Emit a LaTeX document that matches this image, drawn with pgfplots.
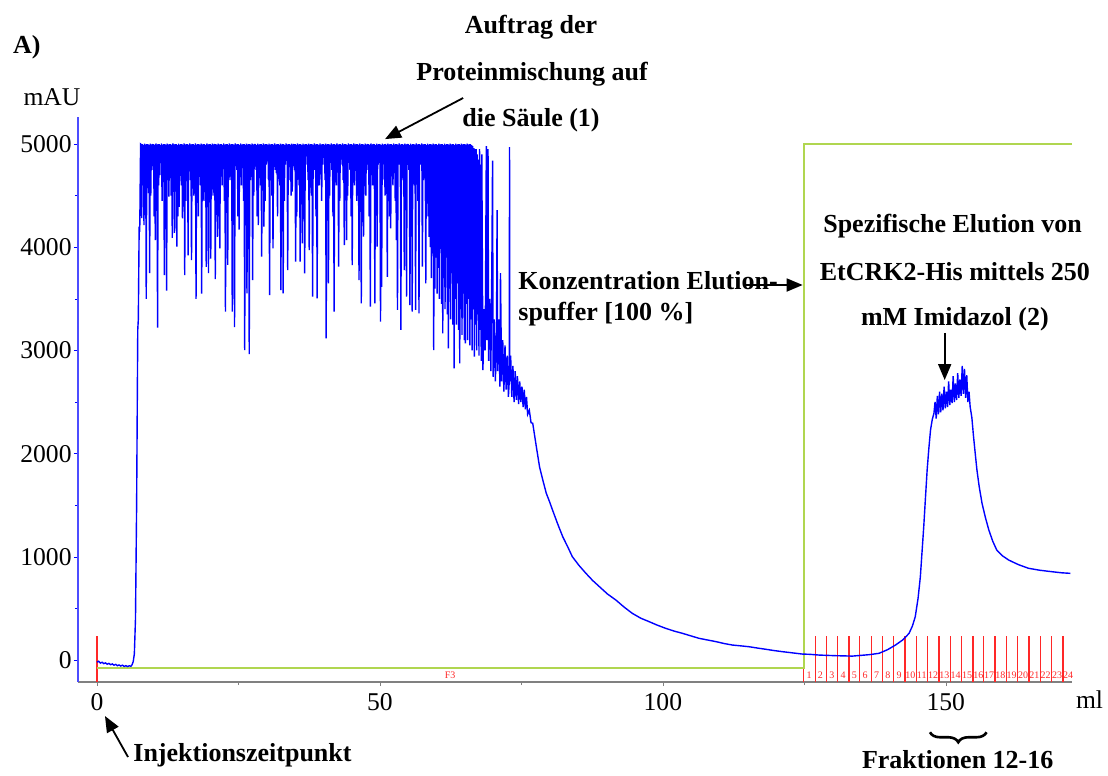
\documentclass[border=0pt]{standalone}
\usepackage{fontspec}
\setmainfont{Liberation Serif}
\usepackage{pgfplots}
\pgfplotsset{compat=1.18}
\usetikzlibrary{arrows.meta,decorations.pathreplacing}

\definecolor{uvblue}{RGB}{0,0,255}
\definecolor{bufgreen}{RGB}{176,214,80}
\definecolor{fracred}{RGB}{255,40,40}

\begin{document}
\begin{tikzpicture}[
  note/.style={font=\fontsize{13}{15}\selectfont\bfseries, inner sep=1pt},
  arr/.style={-{Triangle[length=8pt,width=6.5pt]}, line width=0.9pt},
  frac/.style={text=fracred, font=\fontsize{5}{6}\selectfont, inner sep=0pt}]
\begin{axis}[
  scale only axis, width=497pt, height=282.5pt,
  xmin=-3.36, xmax=172.3, ymin=-213, ymax=5262,
  axis x line*=bottom, axis y line*=left,
  x axis line style={-, draw=gray, line width=0.6pt},
  y axis line style={-, draw=uvblue!70, line width=0.7pt},
  xtick={0,50,100,150}, minor xtick={25,75,125},
  ytick={0,1000,2000,3000,4000,5000}, minor ytick={500,1500,2500,3500,4500},
  tick align=outside, major tick length=2pt, minor tick length=1.5pt,
  x tick style={gray}, y tick style={uvblue},
  tick label style={font=\fontsize{12.8}{14}\selectfont},
  yticklabel style={inner xsep=1pt},
  /pgf/number format/1000 sep={},
  /pgf/number format/assume math mode=true,
  clip=false,
  unbounded coords=jump,
]
% fraction marks
\addplot[fracred, line width=0.6pt] coordinates {
(0,-213)(0,232)(0,nan)
(124.9,-213)(124.9,232)(124.9,nan)(126.9,-213)(126.9,232)(126.9,nan)
(128.9,-213)(128.9,232)(128.9,nan)(130.9,-213)(130.9,232)(130.9,nan)
(132.9,-213)(132.9,232)(132.9,nan)(134.8,-213)(134.8,232)(134.8,nan)
(136.8,-213)(136.8,232)(136.8,nan)(138.8,-213)(138.8,232)(138.8,nan)
(140.8,-213)(140.8,232)(140.8,nan)(142.8,-213)(142.8,232)(142.8,nan)
(144.8,-213)(144.8,232)(144.8,nan)(146.8,-213)(146.8,232)(146.8,nan)
(148.8,-213)(148.8,232)(148.8,nan)(150.8,-213)(150.8,232)(150.8,nan)
(152.8,-213)(152.8,232)(152.8,nan)(154.8,-213)(154.8,232)(154.8,nan)
(156.7,-213)(156.7,232)(156.7,nan)(158.7,-213)(158.7,232)(158.7,nan)
(160.7,-213)(160.7,232)(160.7,nan)(162.7,-213)(162.7,232)(162.7,nan)
(164.7,-213)(164.7,232)(164.7,nan)(166.7,-213)(166.7,232)(166.7,nan)
(168.7,-213)(168.7,232)(168.7,nan)(170.7,-213)(170.7,232)
};
% elution buffer concentration
\addplot[bufgreen, line width=1pt] coordinates {(0,-78)(124.9,-78)(124.9,5000)(172.3,5000)};
% UV signal
\addplot[uvblue, line width=0.7pt] coordinates {
(0,-20)(0.3,-12)(0.6,-30)(0.9,-22)(1.2,-35)(1.5,-28)(1.8,-40)(2.1,-33)(2.4,-45)(2.7,-38)
(3.0,-50)(3.3,-42)(3.6,-55)(3.9,-48)(4.2,-58)(4.5,-50)(4.8,-62)(5.1,-55)(5.4,-63)(5.7,-56)
(6.0,-60)(6.2,-45)(6.4,-15)(6.6,60)(6.8,400)(7.0,1500)(7.2,3200)(7.3,3300)(7.45,4200)(7.55,4150)(7.7,5000)
(7.8,4995)(7.9,4283)
(8.0,5000)(8.1,4900)(8.2,4990)(8.3,4215)(8.4,5005)(8.5,4650)(8.6,4995)(8.7,3500)(8.8,5000)(8.9,4850)
(9.0,5000)(9.1,4525)(9.2,4990)(9.3,3750)(9.4,5005)(9.5,4500)(9.6,4995)(9.7,4950)(9.8,5000)(9.9,4750)
(10.0,5000)(10.1,4300)(10.2,4990)(10.3,4070)(10.4,5005)(10.5,4880)(10.6,4995)(10.7,3220)(10.8,5000)(10.9,4600)
(11.0,5000)(11.1,4700)(11.2,4990)(11.3,4920)(11.4,5005)(11.5,4450)(11.6,4995)(11.7,4800)(11.8,5000)(11.9,3730)
(12.0,5000)(12.1,4900)(12.2,4990)(12.3,3580)(12.4,5005)(12.5,4650)(12.6,4995)(12.7,4490)(12.8,5000)(12.9,4850)
(13.0,5000)(13.1,4500)(13.2,4990)(13.3,4090)(13.4,5005)(13.5,4950)(13.6,4995)(13.7,4140)(13.8,5000)(13.9,4750)
(14.0,5000)(14.1,4005)(14.2,4990)(14.3,4300)(14.4,5005)(14.5,4390)(14.6,4995)(14.7,4880)(14.8,5000)(14.9,4600)
(15.0,5000)(15.1,4280)(15.2,4990)(15.3,4920)(15.4,5005)(15.5,3730)(15.6,4995)(15.7,4450)(15.8,5000)(15.9,4800)
(16.0,5000)(16.1,3920)(16.2,4990)(16.3,4900)(16.4,5005)(16.5,4650)(16.6,4995)(16.7,3876)(16.8,5000)(16.9,4850)
(17.0,5000)(17.1,4500)(17.2,4990)(17.3,4950)(17.4,5005)(17.5,3500)(17.6,4995)(17.7,4750)(17.8,5000)(17.9,4300)
(18.0,5000)(18.1,4880)(18.2,4990)(18.3,4600)(18.4,5005)(18.5,3550)(18.6,4995)(18.7,4920)(18.8,5000)(18.9,4450)
(19.0,5000)(19.1,4800)(19.2,4990)(19.3,3810)(19.4,5005)(19.5,4900)(19.6,4995)(19.7,3750)(19.8,5000)(19.9,4650)
(20.0,5000)(20.1,3890)(20.2,4990)(20.3,4850)(20.4,5005)(20.5,4500)(20.6,4995)(20.7,4950)(20.8,5000)(20.9,3690)
(21.0,5000)(21.1,4750)(21.2,4990)(21.3,4100)(21.4,5005)(21.5,4300)(21.6,4995)(21.7,3990)(21.8,5000)(21.9,4880)
(22.0,5000)(22.1,4600)(22.2,4990)(22.3,4920)(22.4,5005)(22.5,4450)(22.6,4995)(22.7,3375)(22.8,5000)(22.9,4800)
(23.0,5000)(23.1,3830)(23.2,4990)(23.3,4900)(23.4,5005)(23.5,4650)(23.6,4995)(23.7,4850)(23.8,5000)(23.9,3375)
(24.0,5000)(24.1,4500)(24.2,4990)(24.3,3225)(24.4,5005)(24.5,4950)(24.6,4995)(24.7,4750)(24.8,5000)(24.9,4300)
(25.0,5000)(25.1,4170)(25.2,4990)(25.3,4880)(25.4,5005)(25.5,4600)(25.6,4995)(25.7,4920)(25.8,5000)(25.9,4450)
(26.0,5000)(26.1,3004)(26.2,4990)(26.3,4800)(26.4,5005)(26.5,3553)(26.6,4995)(26.7,4900)(26.8,5000)(26.9,2965)
(27.0,5000)(27.1,4650)(27.2,4990)(27.3,4850)(27.4,5005)(27.5,3682)(27.6,4995)(27.7,4500)(27.8,5000)(27.9,4950)
(28.0,5000)(28.1,4750)(28.2,4990)(28.3,4300)(28.4,5005)(28.5,4215)(28.6,4995)(28.7,4880)(28.8,5000)(28.9,4600)
(29.0,5000)(29.1,3908)(29.2,4990)(29.3,4920)(29.4,5005)(29.5,4199)(29.6,4995)(29.7,4450)(29.8,5000)(29.9,4800)
(30.0,5000)(30.1,4900)(30.2,4990)(30.3,4650)(30.4,5005)(30.5,3537)(30.6,4995)(30.7,4850)(30.8,5000)(30.9,4500)
(31.0,5000)(31.1,3989)(31.2,4990)(31.3,4950)(31.4,5005)(31.5,4750)(31.6,4995)(31.7,4719)(31.8,5000)(31.9,4300)
(32.0,5000)(32.1,4880)(32.2,4990)(32.3,4600)(32.4,5005)(32.5,3585)(32.6,4995)(32.7,4920)(32.8,5000)(32.9,3553)
(33.0,5000)(33.1,4450)(33.2,4990)(33.3,4800)(33.4,5005)(33.5,4900)(33.6,4995)(33.7,3779)(33.8,5000)(33.9,4650)
(34.0,5000)(34.1,4850)(34.2,4990)(34.3,4500)(34.4,5005)(34.5,4538)(34.6,4995)(34.7,4950)(34.8,5000)(34.9,4750)
(35.0,5000)(35.1,3860)(35.2,4990)(35.3,4300)(35.4,5005)(35.5,4880)(35.6,4995)(35.7,4600)(35.8,5000)(35.9,3860)
(36.0,5000)(36.1,4920)(36.2,4990)(36.3,4037)(36.4,5005)(36.5,4450)(36.6,4995)(36.7,3747)(36.8,5000)(36.9,4800)
(37.0,5000)(37.1,4900)(37.2,4990)(37.3,4650)(37.4,5005)(37.5,3973)(37.6,4995)(37.7,4850)(37.8,5000)(37.9,4500)
(38.0,5000)(38.1,3521)(38.2,4990)(38.3,4950)(38.4,5005)(38.5,4750)(38.6,4995)(38.7,4300)(38.8,5000)(38.9,3505)
(39.0,5000)(39.1,4880)(39.2,4990)(39.3,4600)(39.4,5005)(39.5,4920)(39.6,4995)(39.7,4450)(39.8,5000)(39.9,4800)
(40.0,5000)(40.1,4900)(40.2,4990)(40.3,4650)(40.4,5005)(40.5,3117)(40.6,4995)(40.7,4850)(40.8,5000)(40.9,3650)
(41.0,5000)(41.1,4500)(41.2,4990)(41.3,4950)(41.4,5005)(41.5,4750)(41.6,4995)(41.7,4300)(41.8,5000)(41.9,3375)
(42.0,5000)(42.1,4880)(42.2,4990)(42.3,4600)(42.4,5005)(42.5,4920)(42.6,4995)(42.7,3811)(42.8,5000)(42.9,4450)
(43.0,5000)(43.1,4800)(43.2,4990)(43.3,4900)(43.4,5005)(43.5,4650)(43.6,4995)(43.7,4021)(43.8,5000)(43.9,4850)
(44.0,5000)(44.1,4070)(44.2,4990)(44.3,4500)(44.4,5005)(44.5,4950)(44.6,4995)(44.7,4750)(44.8,5000)(44.9,4300)
(45.0,5000)(45.1,3827)(45.2,4990)(45.3,4880)(45.4,5005)(45.5,4600)(45.6,4995)(45.7,4920)(45.8,5000)(45.9,4450)
(46.0,5000)(46.1,4800)(46.2,4990)(46.3,3682)(46.4,5005)(46.5,4900)(46.6,4995)(46.7,3456)(46.8,5000)(46.9,4650)
(47.0,5000)(47.1,4102)(47.2,4990)(47.3,4850)(47.4,5005)(47.5,4500)(47.6,4995)(47.7,4950)(47.8,5000)(47.9,4750)
(48.0,5000)(48.1,4300)(48.2,4990)(48.3,3424)(48.4,5005)(48.5,4880)(48.6,4995)(48.7,4600)(48.8,5000)(48.9,4920)
(49.0,5000)(49.1,3456)(49.2,4990)(49.3,4450)(49.4,5005)(49.5,4005)(49.6,4995)(49.7,4800)(49.8,5000)(49.9,4900)
(50.0,5000)(50.1,3278)(50.2,4990)(50.3,3617)(50.4,5005)(50.5,4650)(50.6,4995)(50.7,4850)(50.8,5000)(50.9,4500)
(51.0,5000)(51.1,4950)(51.2,4990)(51.3,3714)(51.4,5005)(51.5,4750)(51.6,4995)(51.7,4300)(51.8,5000)(51.9,4183)
(52.0,5000)(52.1,4880)(52.2,4990)(52.3,4600)(52.4,5005)(52.5,4920)(52.6,4995)(52.7,4450)(52.8,5000)(52.9,4070)
(53.0,5000)(53.1,3392)(53.2,4990)(53.3,4800)(53.4,5005)(53.5,4900)(53.6,4995)(53.7,3198)(53.8,5000)(53.9,4650)
(54.0,5000)(54.1,4850)(54.2,4990)(54.3,3779)(54.4,5005)(54.5,4500)(54.6,4995)(54.7,3521)(54.8,5000)(54.9,4950)
(55.0,5000)(55.1,4750)(55.2,4990)(55.3,3440)(55.4,5005)(55.5,4300)(55.6,4995)(55.7,3375)(55.8,5000)(55.9,4880)
(56.0,5000)(56.1,4600)(56.2,4990)(56.3,3392)(56.4,5005)(56.5,4920)(56.6,4995)(56.7,4450)(56.8,5000)(56.9,3359)
(57.0,5000)(57.1,4800)(57.2,4990)(57.3,4900)(57.4,5005)(57.5,3811)(57.6,4995)(57.7,4650)(57.8,5000)(57.9,4850)
(58.0,5000)(58.1,3650)(58.2,4990)(58.3,4500)(58.4,5005)(58.5,4300)(58.6,4995)(58.7,4100)(58.8,5000)(58.9,4000)
(59.0,5000)(59.1,3700)(59.2,4990)(59.3,4100)(59.4,5005)(59.5,3004)(59.6,4995)(59.7,3600)(59.8,5000)(59.9,3900)
(60.0,5000)(60.1,3550)(60.2,4990)(60.3,3800)(60.4,5005)(60.5,3500)(60.6,4995)(60.7,4000)(60.8,5000)(60.9,3450)
(61.0,5000)(61.1,3166)(61.2,4990)(61.3,3700)(61.4,5005)(61.5,3400)(61.6,4995)(61.7,3900)(61.8,5000)(61.9,3350)
(62.0,5000)(62.1,3020)(62.2,4990)(62.3,3600)(62.4,5005)(62.5,3300)(62.6,4995)(62.7,3750)(62.8,5000)(62.9,3250)
(63.0,5000)(63.1,2826)(63.2,4990)(63.3,3500)(63.4,5005)(63.5,3250)(63.6,4995)(63.7,3650)(63.8,5000)(63.9,3200)
(64.0,5000)(64.1,2875)(64.2,4990)(64.3,3400)(64.4,5005)(64.5,3150)(64.6,4995)(64.7,3550)(64.8,5000)(64.9,3100)
(65.0,5000)(65.1,3069)(65.2,4990)(65.3,3450)(65.4,5005)(65.5,3100)(65.6,4995)(65.7,3500)(65.8,5000)(65.9,3050)
(66.0,5000)(66.1,3300)(66.2,4990)(66.3,3000)(66.4,4980)(66.5,3400)(66.6,4960)(66.7,2939)(66.8,4950)(66.9,3250)
(67.0,4950)(67.1,3000)(67.2,4900)(67.3,3350)(67.4,4850)(67.5,2950)(67.6,4950)(67.7,3200)(67.8,4800)(67.9,2900)
(68.0,4900)(68.2,2810)(68.4,3400)(68.6,3000)(68.8,4980)(68.9,3100)(69.1,4950)(69.2,2900)(69.4,3500)(69.6,2800)
(69.8,4000)(69.9,4840)(70.0,2745)(70.2,3300)(70.4,2700)(70.6,3200)(70.7,4360)(70.8,2800)(71.0,3300)(71.2,2650)
(71.3,3750)(71.5,2700)(71.7,3100)(71.9,2600)(72.1,3050)(72.3,2620)(72.5,2950)(72.7,2550)(72.85,2700)(72.9,4970)
(72.95,2700)(73.1,2950)(73.3,2550)(73.5,2850)(73.7,2500)(73.9,2800)(74.1,2520)(74.3,2750)(74.5,2480)(74.7,2700)
(74.9,2500)(75.1,2650)(75.3,2450)(75.5,2620)(75.7,2430)(75.9,2550)(76.1,2380)(76.4,2420)(76.7,2300)(77.0,2294)
(77.6,2080)(78.2,1873)(78.8,1740)(79.4,1615)(80.0,1530)(80.5,1453)(81.4,1320)(82.3,1195)(83.2,1095)(84.0,1001)
(85.2,915)(86.4,840)(87.6,770)(88.8,710)(90.2,640)(91.7,581)(93.1,515)(94.6,452)(96.1,405)(97.6,371)
(99.0,338)(100.5,307)(102.0,280)(103.5,258)(105.0,233)(106.4,210)(107.9,194)(109.4,178)(110.8,160)(112.3,145)
(113.8,137)(115.2,129)(116.7,116)(118.2,104)(119.6,92)(121.1,81)(122.8,70)(124.6,58)(126.0,55)(127.6,48)
(129.0,45)(130.5,42)(132.0,40)(133.5,38)(135.0,45)(136.5,52)(138.2,65)(139.7,100)(141.1,145)(142.4,195)
(143.5,258)(144.1,330)(144.6,420)(145.1,600)(145.5,807)(145.8,1050)(146.1,1292)(146.4,1570)(146.7,1841)(147.0,2050)
(147.3,2229)(147.6,2330)(147.9,2390)(148.1,2500)(148.3,2340)(148.5,2560)(148.7,2380)(148.9,2600)(149.1,2400)(149.3,2580)
(149.5,2420)(149.7,2650)(149.9,2440)(150.1,2600)(150.3,2450)(150.5,2700)(150.7,2470)(150.9,2620)(151.1,2490)(151.3,2750)
(151.5,2500)(151.7,2680)(151.9,2520)(152.1,2780)(152.3,2540)(152.5,2720)(152.7,2560)(152.9,2850)(153.1,2580)(153.3,2820)
(153.5,2540)(153.7,2760)(153.9,2500)(154.1,2600)(154.3,2454)(154.6,2350)(154.9,2164)(155.2,2000)(155.5,1841)(155.9,1680)
(156.4,1518)(157.0,1380)(157.6,1260)(158.3,1150)(159.0,1066)(160.0,1010)(161.1,969)(162.8,925)(164.6,889)(166.6,870)
(168.7,856)(170.5,845)(172.0,840)
};
% annotations
\node[note] at (axis cs:-12.4,5940) {A)};
\node[inner sep=1pt, font=\fontsize{12.8}{14}\selectfont] at (axis cs:-7.95,5455) {mAU};
\node[note] at (axis cs:76.7,6134) {Auftrag der};
\node[note] at (axis cs:76.9,5678) {Proteinmischung auf};
\node[note] at (axis cs:76.7,5233) {die Säule (1)};
\draw[arr] (axis cs:64.7,5446) -- (axis cs:50.9,5048);
\node[note, anchor=west, inner xsep=0pt] at (axis cs:74.4,3672) {Konzentration Elution-};
\node[note, anchor=west, inner xsep=0pt] at (axis cs:74.4,3353) {spuffer [100 \%]};
\draw[arr] (axis cs:114.5,3634) -- (axis cs:124.7,3634);
\node[note] at (axis cs:151.2,4205) {Spezifische Elution von};
\node[note] at (axis cs:151.6,3760) {EtCRK2-His mittels 250};
\node[note] at (axis cs:151.6,3304) {mM Imidazol (2)};
\draw[arr] (axis cs:149.8,3169) -- (axis cs:149.8,2713);
\node[note, anchor=west, inner xsep=0pt] at (axis cs:6.36,-920) {Injektionszeitpunkt};
\draw[arr] (axis cs:5.48,-940) -- (axis cs:1.41,-543);
\draw[line width=1.3pt, decorate, decoration={brace, amplitude=5pt, mirror}] (axis cs:147.2,-700) -- (axis cs:157.2,-700);
\node[note] at (axis cs:152.1,-969) {Fraktionen 12-16};
\node[inner sep=1pt, font=\fontsize{12.8}{14}\selectfont] at (axis cs:175.4,-388) {ml};
\node[frac] at (axis cs:62.4,-145) {F3};
\node[frac] at (axis cs:125.85,-145) {1};
\node[frac] at (axis cs:127.85,-145) {2};
\node[frac] at (axis cs:129.85,-145) {3};
\node[frac] at (axis cs:131.85,-145) {4};
\node[frac] at (axis cs:133.85,-145) {5};
\node[frac] at (axis cs:135.75,-145) {6};
\node[frac] at (axis cs:137.75,-145) {7};
\node[frac] at (axis cs:139.75,-145) {8};
\node[frac] at (axis cs:141.75,-145) {9};
\node[frac] at (axis cs:143.75,-145) {10};
\node[frac] at (axis cs:145.75,-145) {11};
\node[frac] at (axis cs:147.75,-145) {12};
\node[frac] at (axis cs:149.75,-145) {13};
\node[frac] at (axis cs:151.75,-145) {14};
\node[frac] at (axis cs:153.75,-145) {15};
\node[frac] at (axis cs:155.75,-145) {16};
\node[frac] at (axis cs:157.65,-145) {17};
\node[frac] at (axis cs:159.65,-145) {18};
\node[frac] at (axis cs:161.65,-145) {19};
\node[frac] at (axis cs:163.65,-145) {20};
\node[frac] at (axis cs:165.65,-145) {21};
\node[frac] at (axis cs:167.65,-145) {22};
\node[frac] at (axis cs:169.65,-145) {23};
\node[frac] at (axis cs:171.6,-145) {24};
\end{axis}
\path ([xshift=-39pt,yshift=-47pt]current axis.south west) rectangle ([xshift=18pt,yshift=58.5pt]current axis.north east);
\end{tikzpicture}
\end{document}
